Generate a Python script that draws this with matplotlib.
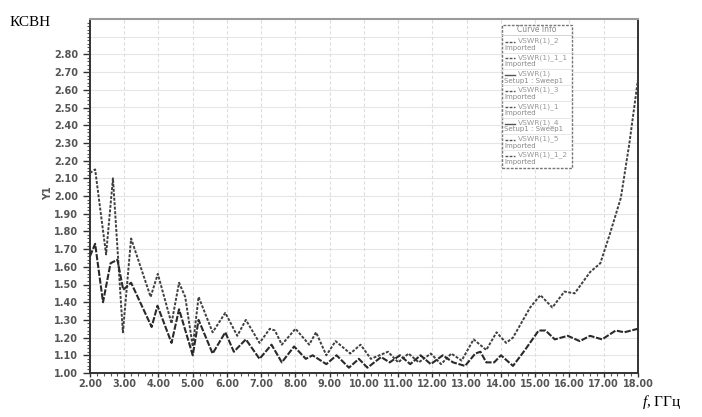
import matplotlib
matplotlib.use("Agg")
import matplotlib.pyplot as plt
from matplotlib.lines import Line2D
import numpy as np

plt.rcParams['mathtext.fontset'] = 'custom'
plt.rcParams['mathtext.it'] = 'Liberation Serif:italic'
plt.rcParams['mathtext.rm'] = 'Liberation Serif'

# ---- data ----
f_a = [2.0, 2.15, 2.47, 2.67, 2.96, 3.2, 3.77, 3.98, 4.38, 4.6, 4.78, 5.0, 5.17, 5.58,
       5.95, 6.3, 6.55, 6.95, 7.25, 7.4, 7.6, 8.0, 8.4, 8.6, 8.9, 9.17, 9.6, 9.9, 10.2,
       10.7, 11.0, 11.3, 11.6, 11.95, 12.25, 12.55, 12.85, 13.2, 13.57, 13.87, 14.15,
       14.35, 14.85, 15.15, 15.5, 15.85, 16.15, 16.6, 16.9, 17.17, 17.5, 17.75, 18.0]
vswr_a = [2.13, 2.15, 1.67, 2.10, 1.23, 1.76, 1.43, 1.56, 1.28, 1.51, 1.43, 1.15, 1.43, 1.23,
          1.34, 1.21, 1.30, 1.17, 1.25, 1.24, 1.16, 1.25, 1.16, 1.23, 1.10, 1.18, 1.11, 1.16, 1.08,
          1.12, 1.06, 1.11, 1.06, 1.11, 1.05, 1.11, 1.07, 1.19, 1.13, 1.23, 1.17,
          1.20, 1.37, 1.44, 1.37, 1.46, 1.45, 1.57, 1.62, 1.78, 1.99, 2.30, 2.66]

f_b = [2.0, 2.15, 2.38, 2.6, 2.8, 2.97, 3.2, 3.8, 3.97, 4.38, 4.6, 5.0, 5.17, 5.58, 5.95,
       6.2, 6.55, 6.95, 7.3, 7.6, 7.96, 8.3, 8.5, 8.9, 9.2, 9.56, 9.85, 10.1, 10.5, 10.75,
       11.05, 11.35, 11.65, 11.95, 12.3, 12.6, 12.95, 13.25, 13.4, 13.57, 13.8, 14.0, 14.35,
       14.7, 15.1, 15.3, 15.57, 15.95, 16.3, 16.6, 16.95, 17.35, 17.6, 18.0]
vswr_b = [1.66, 1.73, 1.40, 1.62, 1.64, 1.47, 1.51, 1.26, 1.38, 1.17, 1.36, 1.10, 1.30, 1.11, 1.23,
          1.12, 1.19, 1.08, 1.16, 1.06, 1.15, 1.08, 1.10, 1.05, 1.10, 1.03, 1.08, 1.03, 1.09, 1.06,
          1.10, 1.05, 1.10, 1.05, 1.10, 1.06, 1.04, 1.11, 1.12, 1.06, 1.06, 1.10, 1.04,
          1.13, 1.24, 1.24, 1.19, 1.21, 1.18, 1.21, 1.19, 1.24, 1.23, 1.25]

x_ticks = [2, 3, 4, 5, 6, 7, 8, 9, 10, 11, 12, 13, 14, 15, 16, 17, 18]
y_ticks = [1.0, 1.1, 1.2, 1.3, 1.4, 1.5, 1.6, 1.7, 1.8, 1.9, 2.0, 2.1, 2.2, 2.3, 2.4, 2.5, 2.6, 2.7, 2.8]

legend_names = ["VSWR(1)_2", "VSWR(1)_1_1", "VSWR(1)", "VSWR(1)_3",
                "VSWR(1)_1", "VSWR(1)_4", "VSWR(1)_5", "VSWR(1)_1_2"]
legend_sub = ["Imported", "Imported", "Setup1 : Sweep1", "Imported",
              "Imported", "Setup1 : Sweep1", "Imported", "Imported"]

fig = plt.figure(figsize=(7.02, 4.17), dpi=100)
ax = fig.add_axes([90/702, 1-373/417, (638-90)/702, (373-19)/417])

# grid
for y in np.arange(1.1, 3.0, 0.1):
    ax.axhline(y, color="#e6e6e6", lw=0.8, zorder=0)
for x in x_ticks[1:-1]:
    ax.axvline(x, color="#dddddd", lw=0.8, ls=(0, (3, 2)), zorder=0)

ax.plot(f_a, vswr_a, color="#404040", lw=1.4, ls=(0, (1.5, 0.8)), zorder=3)
ax.plot(f_b, vswr_b, color="#2a2a2a", lw=1.5, ls=(0, (3, 0.8)), zorder=3)

ax.set_xlim(2, 18)
ax.set_ylim(1.0, 3.0)
ax.set_xticks(x_ticks)
ax.set_xticklabels([f"{v:.2f}" for v in x_ticks])
ax.set_yticks(y_ticks)
ax.set_yticklabels([f"{v:.2f}" for v in y_ticks])
ax.set_xticks(np.arange(2, 18.01, 0.2), minor=True)
ax.set_yticks(np.arange(1.0, 3.0, 0.02), minor=True)
ax.tick_params(axis="y", which="major", labelsize=7, labelcolor="#555555",
               color="#333333", length=5, width=1)
ax.tick_params(axis="x", which="major", labelsize=7, labelcolor="#555555",
               color="#333333", length=3, width=1, pad=1.5)
ax.tick_params(axis="both", which="minor", color="#555555", length=2.5, width=0.8)
for lab in ax.get_xticklabels() + ax.get_yticklabels():
    lab.set_fontweight("bold")

ax.spines["left"].set_color("#333333")
ax.spines["left"].set_linewidth(1.4)
ax.spines["bottom"].set_color("#333333")
ax.spines["bottom"].set_linewidth(1.4)
ax.spines["top"].set_color("#9a9a9a")
ax.spines["top"].set_linewidth(1.5)
ax.spines["right"].set_color("#333333")
ax.spines["right"].set_linewidth(1.4)
ax.spines["right"].set_linestyle((0, (2, 1)))

fig.text(48/702, 1-193/417, "Y1", rotation=90, fontsize=7, color="#555555",
         fontweight="bold", ha="center", va="center")

# legend box (drawn manually)
lx0, lx1 = 502/702, 572/702
ly0, ly1 = 1-168/417, 1-25/417
box = plt.Rectangle((lx0, ly0), lx1-lx0, ly1-ly0, transform=fig.transFigure,
                    facecolor="white", edgecolor="#777777", lw=1.0, ls=(0, (2, 1)), zorder=5)
fig.add_artist(box)
fig.text((lx0+lx1)/2, 1-30/417, "Curve Info", fontsize=5.5, color="#888888",
         ha="center", va="center", zorder=6)
fig.add_artist(Line2D([lx0, lx1], [1-35/417]*2, transform=fig.transFigure,
                      color="#cccccc", lw=0.6, zorder=6))
for i, (nm, sb) in enumerate(zip(legend_names, legend_sub)):
    ytop = 38 + i*16.3
    fig.add_artist(Line2D([505/702, 515/702], [1-(ytop+4)/417]*2, transform=fig.transFigure,
                          color="#555555", lw=1.0, ls=(0, (2, 1)) if i % 3 != 2 else "-",
                          zorder=6))
    fig.text(518/702, 1-(ytop+3)/417, nm, fontsize=5.4, color="#999999",
             ha="left", va="center", zorder=6)
    fig.text(504/702, 1-(ytop+10)/417, sb, fontsize=5.0, color="#888888",
             ha="left", va="center", zorder=6)
    if i < 7:
        fig.add_artist(Line2D([lx0, lx1], [1-(ytop+14.5)/417]*2, transform=fig.transFigure,
                              color="#dddddd", lw=0.5, zorder=6))

fig.text(10/702, 1-22/417, "КСВН", fontsize=11, family="Liberation Serif",
         ha="left", va="center")
fig.text(642/702, 1-402/417, "$f$, ГГц", fontsize=11, family="Liberation Serif",
         ha="left", va="center")

fig.savefig("out.png", dpi=100)
